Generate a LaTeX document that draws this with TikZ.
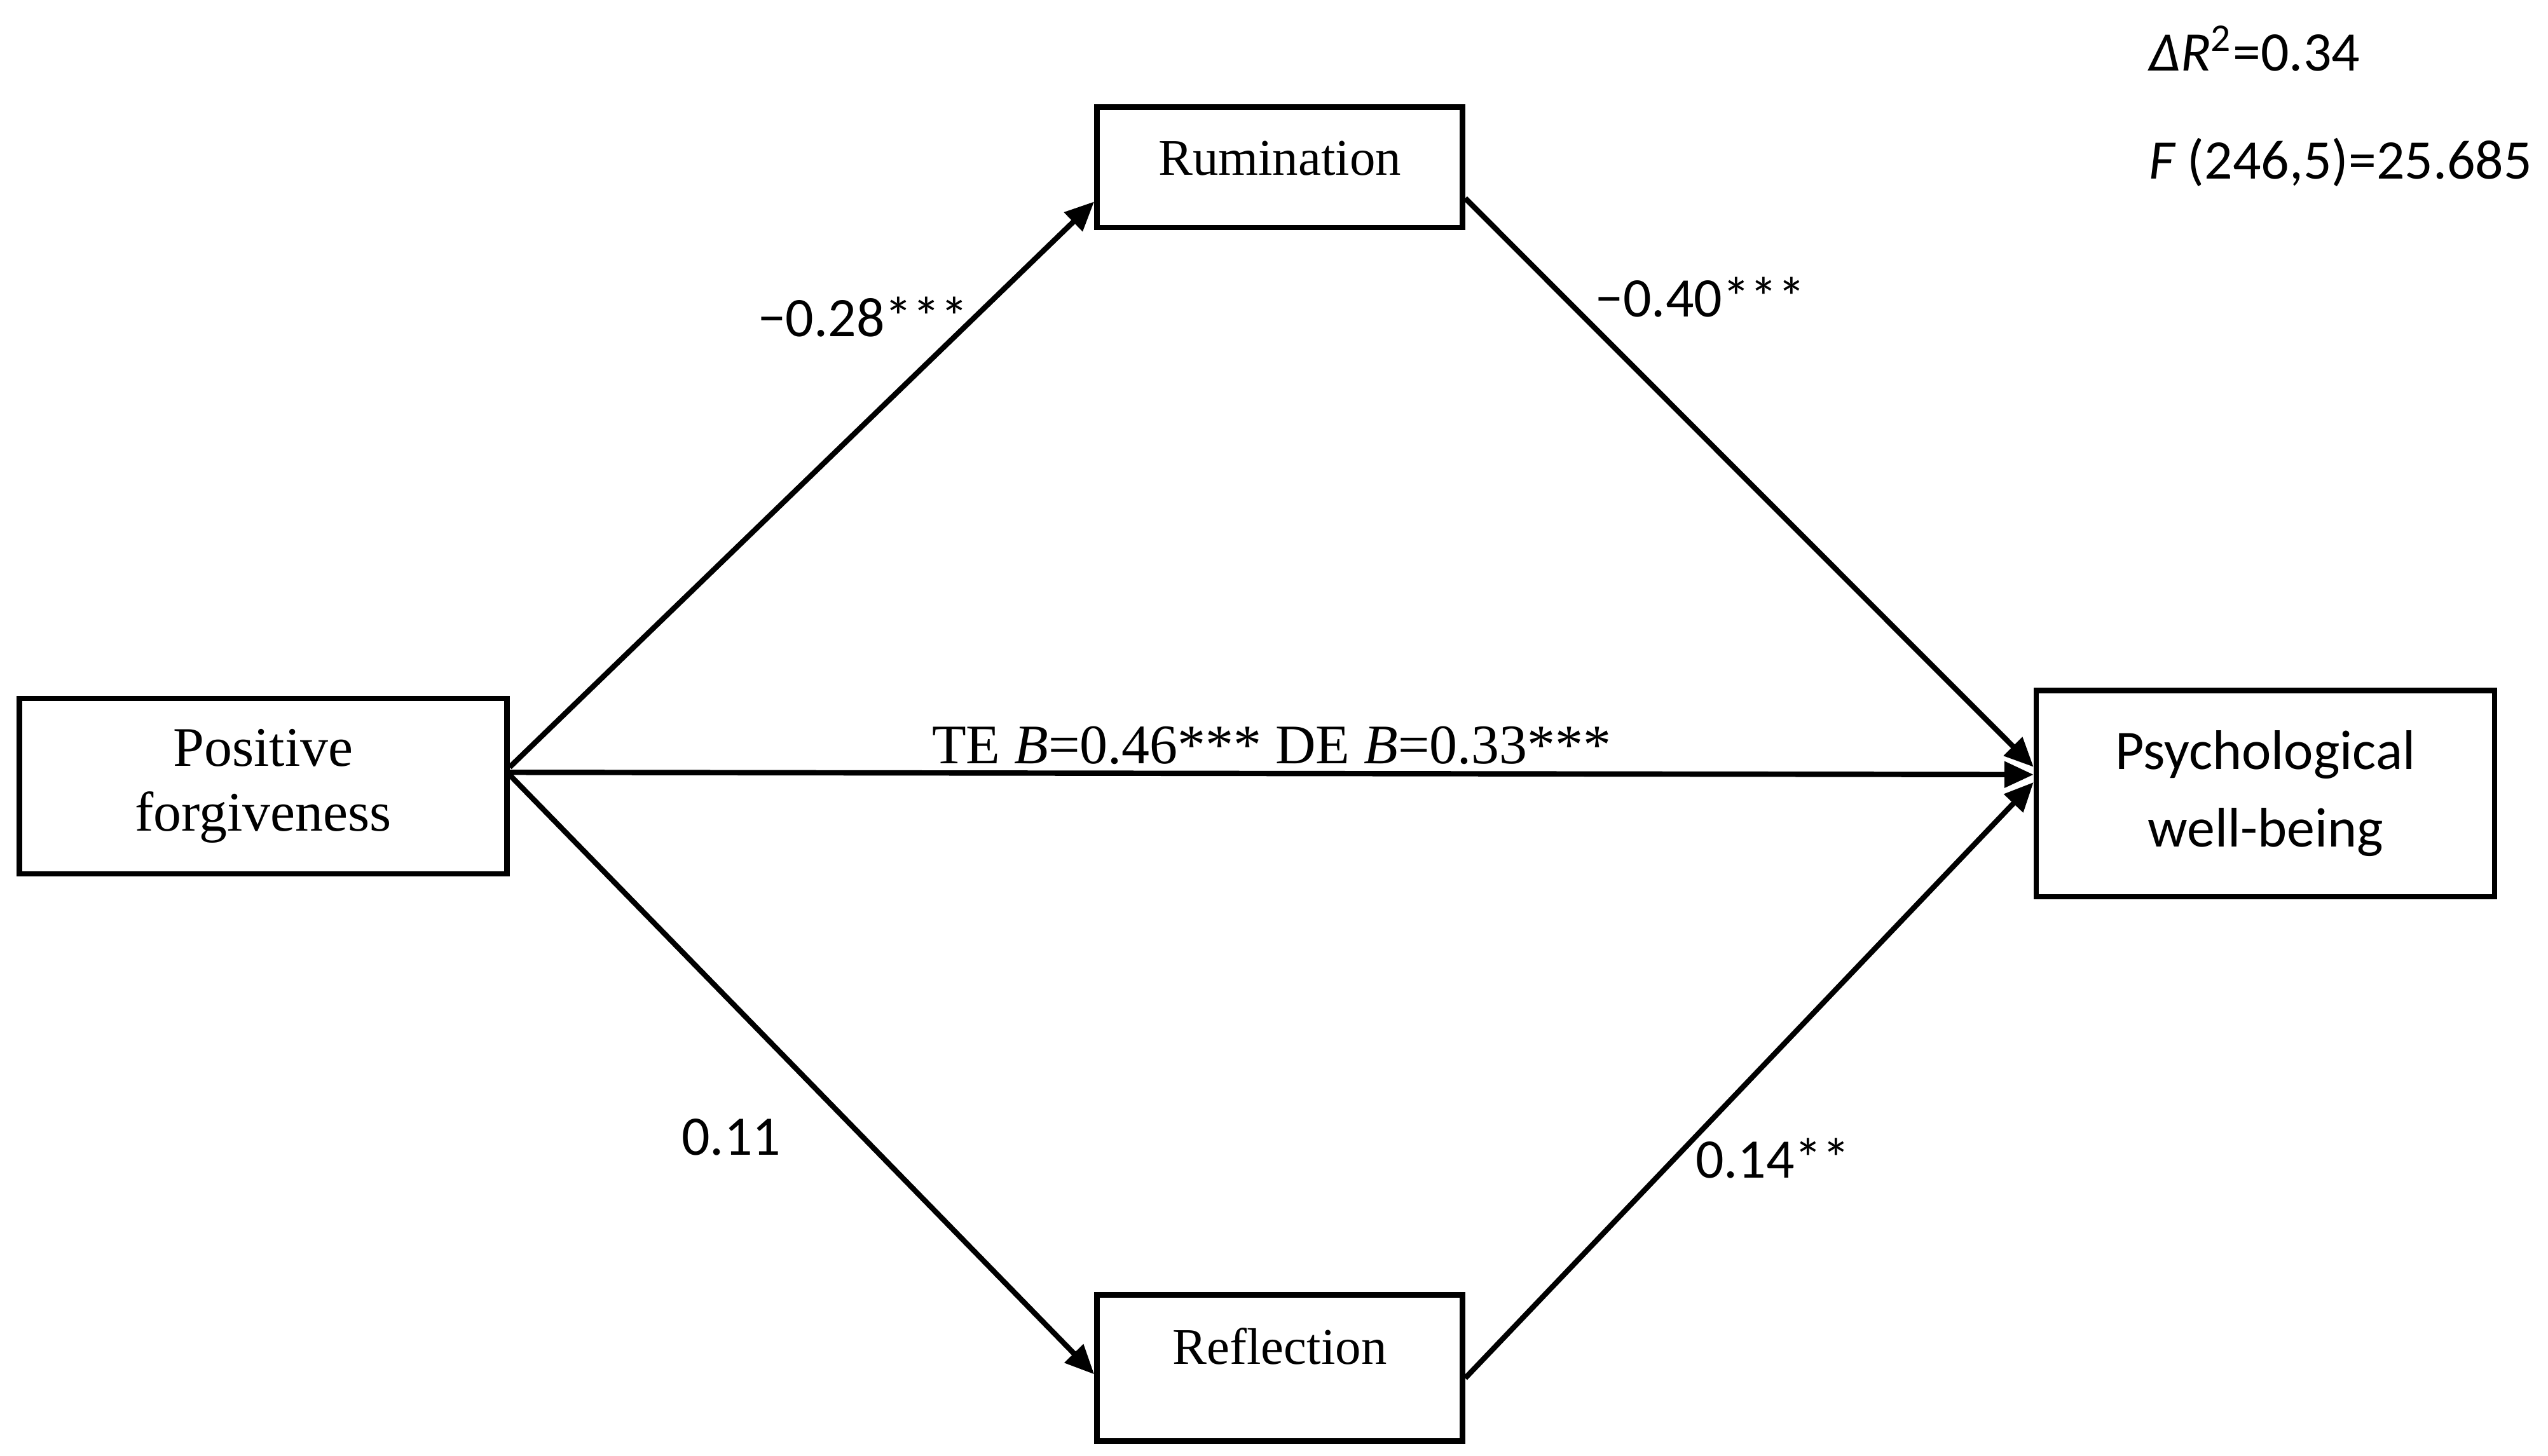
\documentclass[tikz,border=0pt]{standalone}
\usepackage{fontspec}
\setmainfont{Liberation Serif}
\newfontfamily\calibri{Carlito}
\usetikzlibrary{arrows.meta}

\tikzset{
  box/.style={draw, line width=1.2pt, rectangle, align=center, inner sep=0pt},
  link/.style={line width=1.2pt, -{Triangle[length=0.23cm,width=0.2cm]}},
  coef/.style={font=\calibri\fontsize{12.5}{15}\selectfont, inner sep=0pt},
}

\begin{document}
\begin{tikzpicture}
      \useasboundingbox (0,0) rectangle (20.04,-11.45);
      \node[box, minimum width=3.834cm, minimum height=1.38cm, font=\fontsize{12.5}{14.5}\selectfont] (pf) at (2.07,-6.186) {Positive\\forgiveness};
      \node[box, minimum width=2.876cm, minimum height=0.946cm, font=\fontsize{11.5}{14}\selectfont, text height=0.3cm, text depth=0.18cm] (rum) at (10.065,-1.316) {Rumination};
      \node[box, minimum width=2.876cm, minimum height=1.15cm, font=\fontsize{11.5}{14}\selectfont, text height=0.3cm, text depth=0.36cm] (refl) at (10.065,-10.762) {Reflection};
      \node[box, minimum width=3.604cm, minimum height=1.623cm, font=\calibri\fontsize{12.5}{17.4}\selectfont] (pwb) at (17.817,-6.244) {Psychological\\well-being};
      \draw[link] ([yshift=0.15cm]pf.east) -- ([yshift=-0.27cm]rum.west);
      \draw[link] ([yshift=0.11cm]pf.east) -- node[midway, above, inner sep=1.5pt, font=\fontsize{12.5}{15}\selectfont] (te) {TE \textit{B}=0.46*** DE \textit{B}=0.33***} ([yshift=0.15cm]pwb.west);
      \draw[link] ([yshift=0.09cm]pf.east) -- ([yshift=-0.05cm]refl.west);
      \draw[link] ([yshift=-0.244cm]rum.east) -- ([yshift=0.21cm]pwb.west);
      \draw[link] ([yshift=-0.08cm]refl.east) -- ([yshift=0.09cm]pwb.west);
      \node[coef] (c1) at (6.787,-2.492) {−0.28***};
      \node[coef] (c2) at (13.375,-2.339) {−0.40***};
      \node[coef] (c3) at (5.751,-8.947) {0.11};
      \node[coef] (c4) at (13.944,-9.113) {0.14**};
      \node[coef, anchor=west] (dr) at (16.896,-0.383) {{\itshape ΔR}\textsuperscript{2}=0.34};
      \node[coef, anchor=west] (fs) at (16.896,-1.278) {{\itshape F} (246,5)=25.685};
\end{tikzpicture}
\end{document}
